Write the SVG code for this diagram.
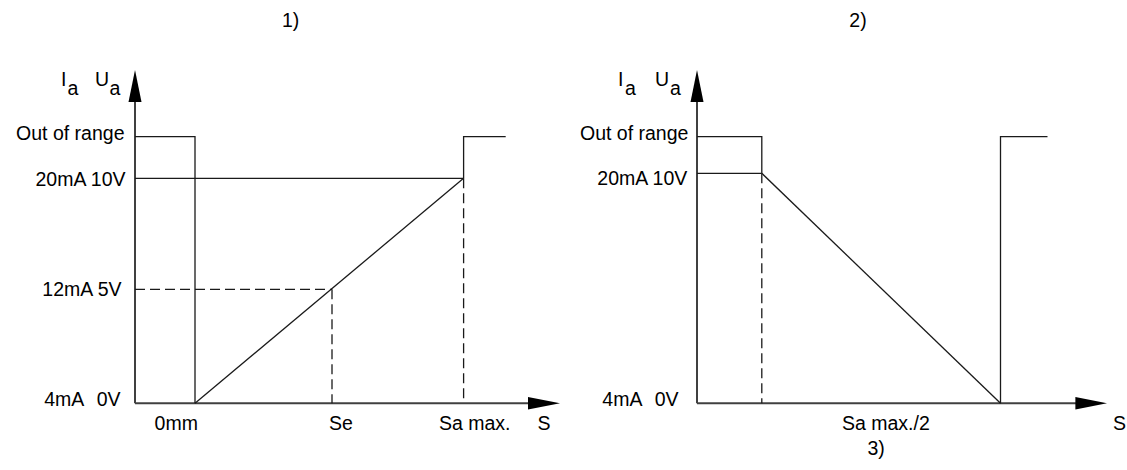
<svg xmlns="http://www.w3.org/2000/svg" width="1127" height="470" viewBox="0 0 1127 470">
<style>
text{font-family:"Liberation Sans",Arial,sans-serif;font-size:19.5px;fill:#000}
.e{text-anchor:end}
.w{word-spacing:8px}
.ax{stroke:#404040;stroke-width:2;fill:none}
.ln{stroke:#1a1a1a;stroke-width:1.3;fill:none}
.ds{stroke:#1a1a1a;stroke-width:1.3;fill:none;stroke-dasharray:10 5}
.ah{fill:#000}
</style>
<rect width="1127" height="470" fill="#fff"/>
<g id="chart1">
  <text x="282" y="27">1)</text>
  <g id="axes1">
    <line class="ax" x1="135" y1="403.3" x2="135" y2="100"/>
    <polygon class="ah" points="135,70 141.5,102 128.5,102"/>
    <line class="ax" x1="135" y1="403.3" x2="530" y2="403.3"/>
    <polygon class="ah" points="560,403.3 528,397 528,409.6"/>
  </g>
  <g id="labels1">
    <text x="61" y="86">I</text><text x="67.5" y="95">a</text>
    <text x="95" y="86">U</text><text x="109.5" y="95">a</text>
    <text class="e" x="124.5" y="140">Out of range</text>
    <text class="e" x="125.5" y="185.5">20mA 10V</text>
    <text class="e" x="121.5" y="296">12mA 5V</text>
    <text class="e w" x="120.5" y="405.5">4mA 0V</text>
    <text x="154.6" y="430">0mm</text>
    <text x="329" y="430">Se</text>
    <text x="439" y="430">Sa max.</text>
    <text x="537.5" y="430">S</text>
  </g>
  <g id="curves1">
    <polyline class="ln" points="135,136.7 195,136.7 195,403.3"/>
    <line class="ln" x1="135" y1="178.3" x2="463.6" y2="178.3"/>
    <polyline class="ln" points="463.6,178.3 463.6,136.7 505.7,136.7"/>
    <line class="ln" x1="195" y1="403.3" x2="463.6" y2="178.3"/>
    <line class="ds" x1="135" y1="289.3" x2="332" y2="289.3"/>
    <line class="ds" x1="332" y1="289.3" x2="332" y2="403.3"/>
    <line class="ds" x1="463.6" y1="178.3" x2="463.6" y2="403.3"/>
  </g>
</g>
<g id="chart2">
  <text x="849.3" y="27">2)</text>
  <g id="axes2">
    <line class="ax" x1="697" y1="403.3" x2="697" y2="100"/>
    <polygon class="ah" points="697,70 703.5,102 690.5,102"/>
    <line class="ax" x1="697" y1="403.3" x2="1078" y2="403.3"/>
    <polygon class="ah" points="1107,403.3 1075.4,397 1075.4,409.6"/>
  </g>
  <g id="labels2">
    <text x="618" y="86">I</text><text x="625" y="95">a</text>
    <text x="655" y="86">U</text><text x="670" y="95">a</text>
    <text class="e" x="688.4" y="140">Out of range</text>
    <text class="e" x="687.3" y="185">20mA 10V</text>
    <text class="e w" x="678.6" y="405.5">4mA 0V</text>
    <text x="842" y="430">Sa max./2</text>
    <text x="1113" y="430">S</text>
    <text x="867.4" y="455">3)</text>
  </g>
  <g id="curves2">
    <polyline class="ln" points="697,136.7 761.8,136.7 761.8,173.3"/>
    <line class="ln" x1="697" y1="173.3" x2="761.8" y2="173.3"/>
    <line class="ln" x1="761.8" y1="173.3" x2="1000.5" y2="403.3"/>
    <polyline class="ln" points="1000.5,403.3 1000.5,136.7 1047.5,136.7"/>
    <line class="ds" x1="761.8" y1="173.3" x2="761.8" y2="403.3"/>
  </g>
</g>
</svg>
